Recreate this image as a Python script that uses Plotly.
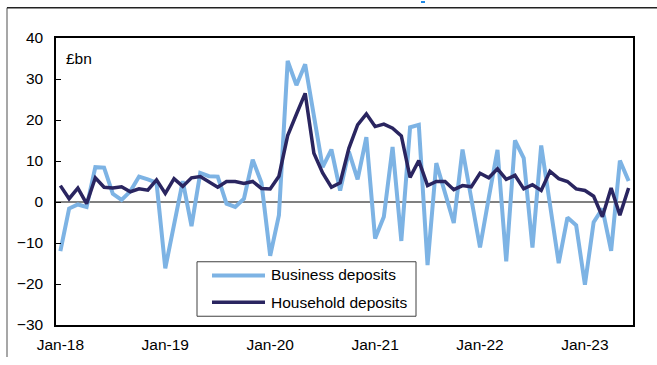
import plotly.graph_objects as go

# Monthly data, Jan-18 to Jun-23 (£bn)
months = [f"{m}-{y}" for y in range(18, 24) for m in
          ["Jan", "Feb", "Mar", "Apr", "May", "Jun", "Jul", "Aug", "Sep", "Oct", "Nov", "Dec"]][:66]

business = [-12, -1.6, -0.6, -1.2, 8.5, 8.4, 2.0, 0.5, 2.6, 6.2, 5.5, 4.7,
            -16.2, -5.0, 5.1, -5.9, 7.1, 6.3, 6.2, -0.4, -1.2, 0.8, 10.3, 4.7,
            -13.1, -3.2, 34.4, 28.5, 33.6, 21.0, 8.5, 12.8, 2.8, 12.3, 5.5, 15.8,
            -8.9, -3.6, 13.4, -9.5, 18.2, 18.8, -15.4, 9.5, 2.4, -5.1, 12.8, 1.0,
            -11.1, 1.0, 12.7, -14.5, 15.0, 10.7, -11.1, 13.8, -0.5, -14.9, -3.8, -5.7,
            -20.2, -4.9, -1.6, -11.9, 10.1, 5.1]

household = [4.0, 0.8, 3.4, -0.4, 5.9, 3.6, 3.4, 3.7, 2.5, 3.2, 2.9, 5.4,
             2.1, 5.7, 3.8, 5.9, 6.2, 4.9, 3.6, 5.0, 5.0, 4.5, 5.0, 3.3,
             3.2, 6.3, 16.2, 21.4, 26.5, 11.9, 7.1, 3.6, 4.7, 13.1, 18.8, 21.5,
             18.4, 19.0, 18.0, 16.1, 6.0, 10.1, 4.0, 5.0, 5.0, 3.0, 4.0, 3.7,
             7.0, 5.9, 8.1, 5.5, 6.5, 3.2, 4.2, 2.8, 7.5, 5.7, 5.0, 3.2,
             2.8, 1.4, -3.6, 3.4, -3.2, 3.4]

tick_labels = ["Jan-18", "Jan-19", "Jan-20", "Jan-21", "Jan-22", "Jan-23"]
y_ticks = [-30, -20, -10, 0, 10, 20, 30, 40]
series_names = ["Business deposits", "Household deposits"]

LIGHT = "#7DB3E4"
DARK = "#2A2560"
FONT = "Liberation Sans, Arial, sans-serif"

x = list(range(len(months)))

fig = go.Figure()
fig.add_trace(go.Scatter(x=x, y=business, mode="lines", name=series_names[0],
                         line=dict(color=LIGHT, width=4), showlegend=False))
fig.add_trace(go.Scatter(x=x, y=household, mode="lines", name=series_names[1],
                         line=dict(color=DARK, width=3.5), showlegend=False))

W, H = 657, 365
L, R, T, B = 56, 24, 38, 32
PW, PH = W - L - R, H - T - B


def px(xp):
    return (xp - L) / PW


def py(yp):
    return (H - B - yp) / PH


fig.update_layout(
    width=W, height=H,
    margin=dict(l=L, r=R, t=T, b=B),
    paper_bgcolor="white", plot_bgcolor="white",
    font=dict(family=FONT, size=15.5, color="black"),
    xaxis=dict(range=[-0.5, len(months) - 0.5], tickvals=[0, 12, 24, 36, 48, 60],
               ticktext=tick_labels, showgrid=False, zeroline=False,
               showline=True, linecolor="black", linewidth=1.5, mirror=True,
               ticks="", ticklabelstandoff=5),
    yaxis=dict(range=[-30, 40], tickvals=y_ticks, showgrid=False,
               zeroline=True, zerolinecolor="#808080", zerolinewidth=2,
               showline=True, linecolor="black", linewidth=1.5, mirror=True,
               ticks="inside", ticklen=5, tickcolor="black", tickwidth=1,
               ticklabelstandoff=8),
)

shapes = []
# outer frame remnants
shapes.append(dict(type="line", xref="paper", yref="paper", x0=px(7), x1=px(7),
                   y0=py(7), y1=py(366), line=dict(color="#8a8a8a", width=1.5)))
shapes.append(dict(type="line", xref="paper", yref="paper", x0=px(7), x1=px(658),
                   y0=py(7), y1=py(7), line=dict(color="#222222", width=1.5)))
shapes.append(dict(type="rect", xref="paper", yref="paper", x0=px(421), x1=px(425),
                   y0=py(0), y1=py(2), line=dict(width=0), fillcolor="#1E88E5"))
# legend box
shapes.append(dict(type="rect", xref="paper", yref="paper", x0=px(197), x1=px(416),
                   y0=py(268), y1=py(324), line=dict(color="#404040", width=1),
                   fillcolor="white"))
shapes.append(dict(type="line", xref="paper", yref="paper", x0=px(212), x1=px(265),
                   y0=py(282), y1=py(282), line=dict(color=LIGHT, width=4)))
shapes.append(dict(type="line", xref="paper", yref="paper", x0=px(212), x1=px(265),
                   y0=py(309.5), y1=py(309.5), line=dict(color=DARK, width=3.5)))
fig.update_layout(shapes=shapes)

annotations = [
    dict(text="£bn", xref="paper", yref="paper", x=px(64), y=py(59),
         xanchor="left", yanchor="middle", showarrow=False, font=dict(size=15.5)),
    dict(text=series_names[0], xref="paper", yref="paper", x=px(269), y=py(281.5),
         xanchor="left", yanchor="middle", showarrow=False, font=dict(size=15.5)),
    dict(text=series_names[1], xref="paper", yref="paper", x=px(269), y=py(309.5),
         xanchor="left", yanchor="middle", showarrow=False, font=dict(size=15.5)),
]
fig.update_layout(annotations=annotations)

fig.write_html("out.html")
